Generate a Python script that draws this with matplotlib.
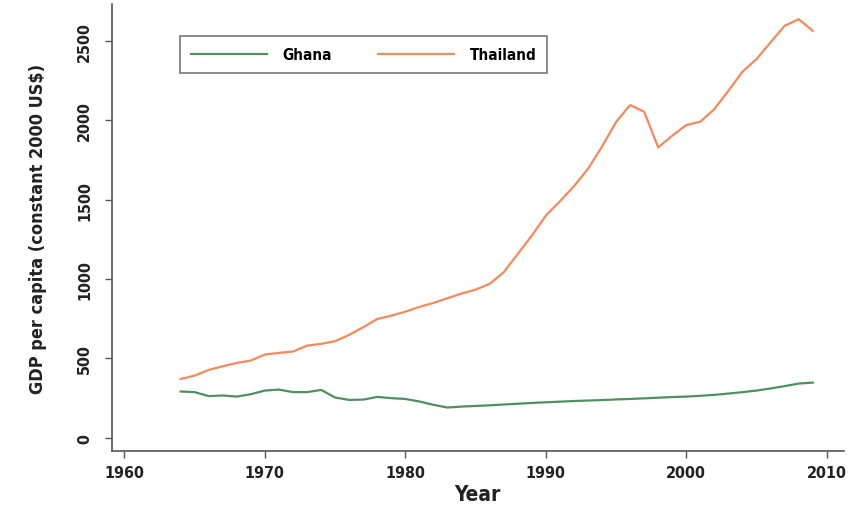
import matplotlib
matplotlib.use("Agg")
from matplotlib import pyplot as plt

years = list(range(1964, 2010))

ghana = [292, 288, 263, 267, 260, 275, 298, 304, 288, 288,
         302, 254, 239, 241, 258, 250, 245, 229, 208, 191,
         197, 201, 205, 210, 215, 220, 224, 228, 232, 235,
         238, 242, 245, 249, 253, 257, 260, 265, 271, 279,
         288, 298, 311, 326, 342, 348]

thailand = [371, 392, 428, 451, 472, 487, 525, 535, 544, 581,
            592, 609, 649, 697, 749, 770, 795, 825, 850, 880,
            909, 934, 970, 1043, 1159, 1274, 1400, 1490, 1585, 1695,
            1835, 1990, 2097, 2055, 1830, 1904, 1971, 1992, 2072, 2187,
            2307, 2387, 2492, 2596, 2638, 2565]

xticks = [1960, 1970, 1980, 1990, 2000, 2010]
yticks = [0, 500, 1000, 1500, 2000, 2500]

plt.rcParams['font.family'] = ['DejaVu Sans']
plt.rcParams['font.stretch'] = 'condensed'

fig = plt.figure(figsize=(8.6, 5.1), dpi=100)
ax = fig.add_axes([0.130, 0.114, 0.851, 0.876])

ax.plot(years, ghana, color='#4f9060', lw=1.6, label='Ghana')
ax.plot(years, thailand, color='#f4895c', lw=1.6, label='Thailand')

ax.set_xlim(1959.1, 2011.2)
ax.set_ylim(-82, 2733)
ax.set_xticks(xticks)
ax.set_yticks(yticks)
ax.set_yticklabels([str(v) for v in yticks], rotation=90, va='center')

for s in ['top', 'right']:
    ax.spines[s].set_visible(False)
for s in ['left', 'bottom']:
    ax.spines[s].set_color('#555555')
    ax.spines[s].set_linewidth(1.2)
ax.tick_params(direction='out', length=5, width=1, color='#555555',
               labelsize=11.5, labelcolor='#222222', pad=5)
ax.tick_params(axis='y', pad=9)
for t in ax.get_xticklabels() + ax.get_yticklabels():
    t.set_fontweight('bold')

ax.set_xlabel('Year', fontsize=15, color='#222222', labelpad=3, fontweight='bold')
ax.set_ylabel('GDP per capita (constant 2000 US$)', fontsize=13, color='#222222',
              labelpad=22, fontweight='bold')

leg = ax.legend(loc='upper left', bbox_to_anchor=(0.083, 0.945), ncol=2,
                prop={'size': 11, 'weight': 'bold'}, frameon=True, fancybox=False,
                handlelength=5, columnspacing=3, borderpad=0.7, handletextpad=1.0)
leg.get_frame().set_edgecolor('#555555')
leg.get_frame().set_linewidth(1.2)

fig.savefig('out.png', dpi=100)
